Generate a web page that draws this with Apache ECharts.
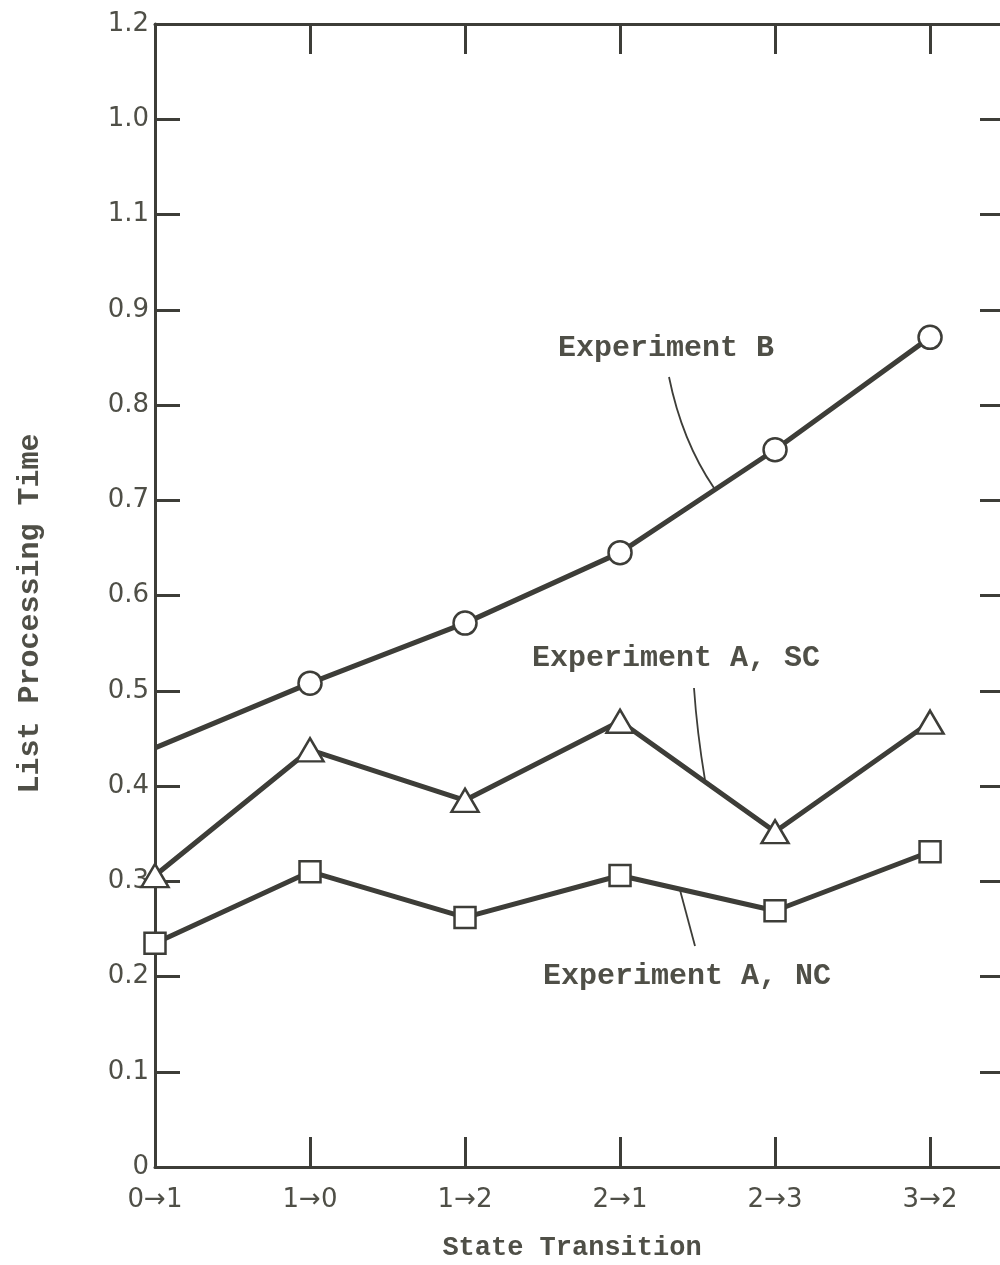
<!DOCTYPE html>
<html>
<head>
<meta charset="utf-8">
<script src="https://cdn.jsdelivr.net/npm/echarts@6/dist/echarts.min.js"></script>
<style>
  html, body { margin: 0; padding: 0; background: #ffffff; }
  #main { width: 1000px; height: 1265px; }
</style>
</head>
<body>
<div id="main"></div>
<script>
// state transitions along the x axis
var categories = ['0→1', '1→0', '1→2', '2→1', '2→3', '3→2'];
// y tick labels as printed (the original has 1.1 and 1.0 swapped)
var yTickLabels = ['0', '0.1', '0.2', '0.3', '0.4', '0.5', '0.6', '0.7', '0.8', '0.9', '1.1', '1.0', '1.2'];

var expB   = [0.44, 0.508, 0.571, 0.645, 0.753, 0.871];
var expASC = [0.306, 0.438, 0.385, 0.468, 0.352, 0.467];
var expANC = [0.235, 0.310, 0.262, 0.306, 0.269, 0.331];

var ink = '#3d3d38';
var textInk = '#4f4f47';
var monoFont = '"Liberation Mono", "DejaVu Sans Mono", monospace';
var sansFont = '"DejaVu Sans", sans-serif';

function toPoints(arr, noFirstSymbol) {
    return arr.map(function (v, i) {
        var p = { value: [i, v] };
        if (noFirstSymbol && i === 0) p.symbol = 'none';
        return p;
    });
}

var chart = echarts.init(document.getElementById('main'));

// the plot frame runs past the right edge of the page, as in the original scan
var xBase = {
    type: 'value',
    min: 0,
    max: 5.548,
    interval: 1,
    splitLine: { show: false },
    axisLine: { show: true, onZero: false, lineStyle: { color: ink, width: 3 } },
    axisTick: {
        show: true, inside: true, length: 30, lineStyle: { color: ink, width: 3 },
        customValues: [0, 1, 2, 3, 4, 5]
    }
};

var yBase = {
    type: 'value',
    min: 0,
    max: 1.2,
    interval: 0.1,
    splitLine: { show: false },
    axisLine: { show: true, onZero: false, lineStyle: { color: ink, width: 3 } },
    axisTick: { show: true, inside: true, length: 25, lineStyle: { color: ink, width: 3 } }
};

var option = {
    backgroundColor: '#ffffff',
    animation: false,
    grid: { left: 155, top: 24, width: 860, height: 1143, containLabel: false, outerBoundsMode: 'none' },
    xAxis: [
        Object.assign({}, xBase, {
            position: 'bottom',
            name: 'State Transition',
            nameLocation: 'middle',
            nameGap: 68,
            nameTextStyle: { fontFamily: monoFont, fontWeight: 'bold', fontSize: 27, color: textInk, padding: [0, 0, 0, -26] },
            axisLabel: {
                margin: 20,
                fontFamily: sansFont,
                fontSize: 26,
                color: textInk,
                showMaxLabel: false,
                formatter: function (v) {
                    var i = Math.round(v);
                    return Math.abs(v - i) < 1e-6 && categories[i] ? categories[i] : '';
                }
            }
        }),
        Object.assign({}, xBase, {
            position: 'top',
            axisLabel: { show: false }
        })
    ],
    yAxis: [
        Object.assign({}, yBase, {
            position: 'left',
            name: 'List Processing Time',
            nameLocation: 'middle',
            nameGap: 110,
            nameTextStyle: { fontFamily: monoFont, fontWeight: 'bold', fontSize: 30, color: textInk, padding: [0, 36, 0, 0] },
            axisLabel: {
                margin: 6,
                fontFamily: sansFont,
                fontSize: 26,
                color: textInk,
                formatter: function (v) {
                    return yTickLabels[Math.round(v * 10)];
                }
            }
        }),
        Object.assign({}, yBase, {
            position: 'right',
            axisTick: { show: true, inside: true, length: 35, lineStyle: { color: ink, width: 3 } },
            axisLabel: { show: false }
        })
    ],
    series: [
        {
            name: 'Experiment B',
            type: 'line',
            data: toPoints(expB, true),
            symbol: 'circle',
            symbolSize: 23,
            showAllSymbol: true,
            lineStyle: { color: ink, width: 5 },
            itemStyle: { color: '#ffffff', borderColor: ink, borderWidth: 2.5 }
        },
        {
            name: 'Experiment A, SC',
            type: 'line',
            data: toPoints(expASC, false),
            symbol: 'triangle',
            symbolSize: [27, 23],
            showAllSymbol: true,
            lineStyle: { color: ink, width: 5 },
            itemStyle: { color: '#ffffff', borderColor: ink, borderWidth: 2.5 }
        },
        {
            name: 'Experiment A, NC',
            type: 'line',
            data: toPoints(expANC, false),
            symbol: 'rect',
            symbolSize: 21,
            showAllSymbol: true,
            lineStyle: { color: ink, width: 5 },
            itemStyle: { color: '#ffffff', borderColor: ink, borderWidth: 2.5 }
        }
    ],
    graphic: [
        // series labels and their leader curves
        { type: 'text', left: 558, top: 333, style: { text: 'Experiment B', font: 'bold 30px ' + monoFont, fill: textInk } },
        { type: 'bezierCurve', shape: { x1: 669, y1: 377, cpx1: 682, cpy1: 441, x2: 714, y2: 488 }, style: { stroke: ink, lineWidth: 1.8, fill: null } },
        { type: 'text', left: 532, top: 643, style: { text: 'Experiment A, SC', font: 'bold 30px ' + monoFont, fill: textInk } },
        { type: 'bezierCurve', shape: { x1: 694, y1: 688, cpx1: 697, cpy1: 732, x2: 705, y2: 780 }, style: { stroke: ink, lineWidth: 1.8, fill: null } },
        { type: 'text', left: 543, top: 961, style: { text: 'Experiment A, NC', font: 'bold 30px ' + monoFont, fill: textInk } },
        { type: 'bezierCurve', shape: { x1: 680, y1: 890, cpx1: 687, cpy1: 916, x2: 695, y2: 946 }, style: { stroke: ink, lineWidth: 1.8, fill: null } }
    ]
};

chart.setOption(option);
</script>
</body>
</html>
